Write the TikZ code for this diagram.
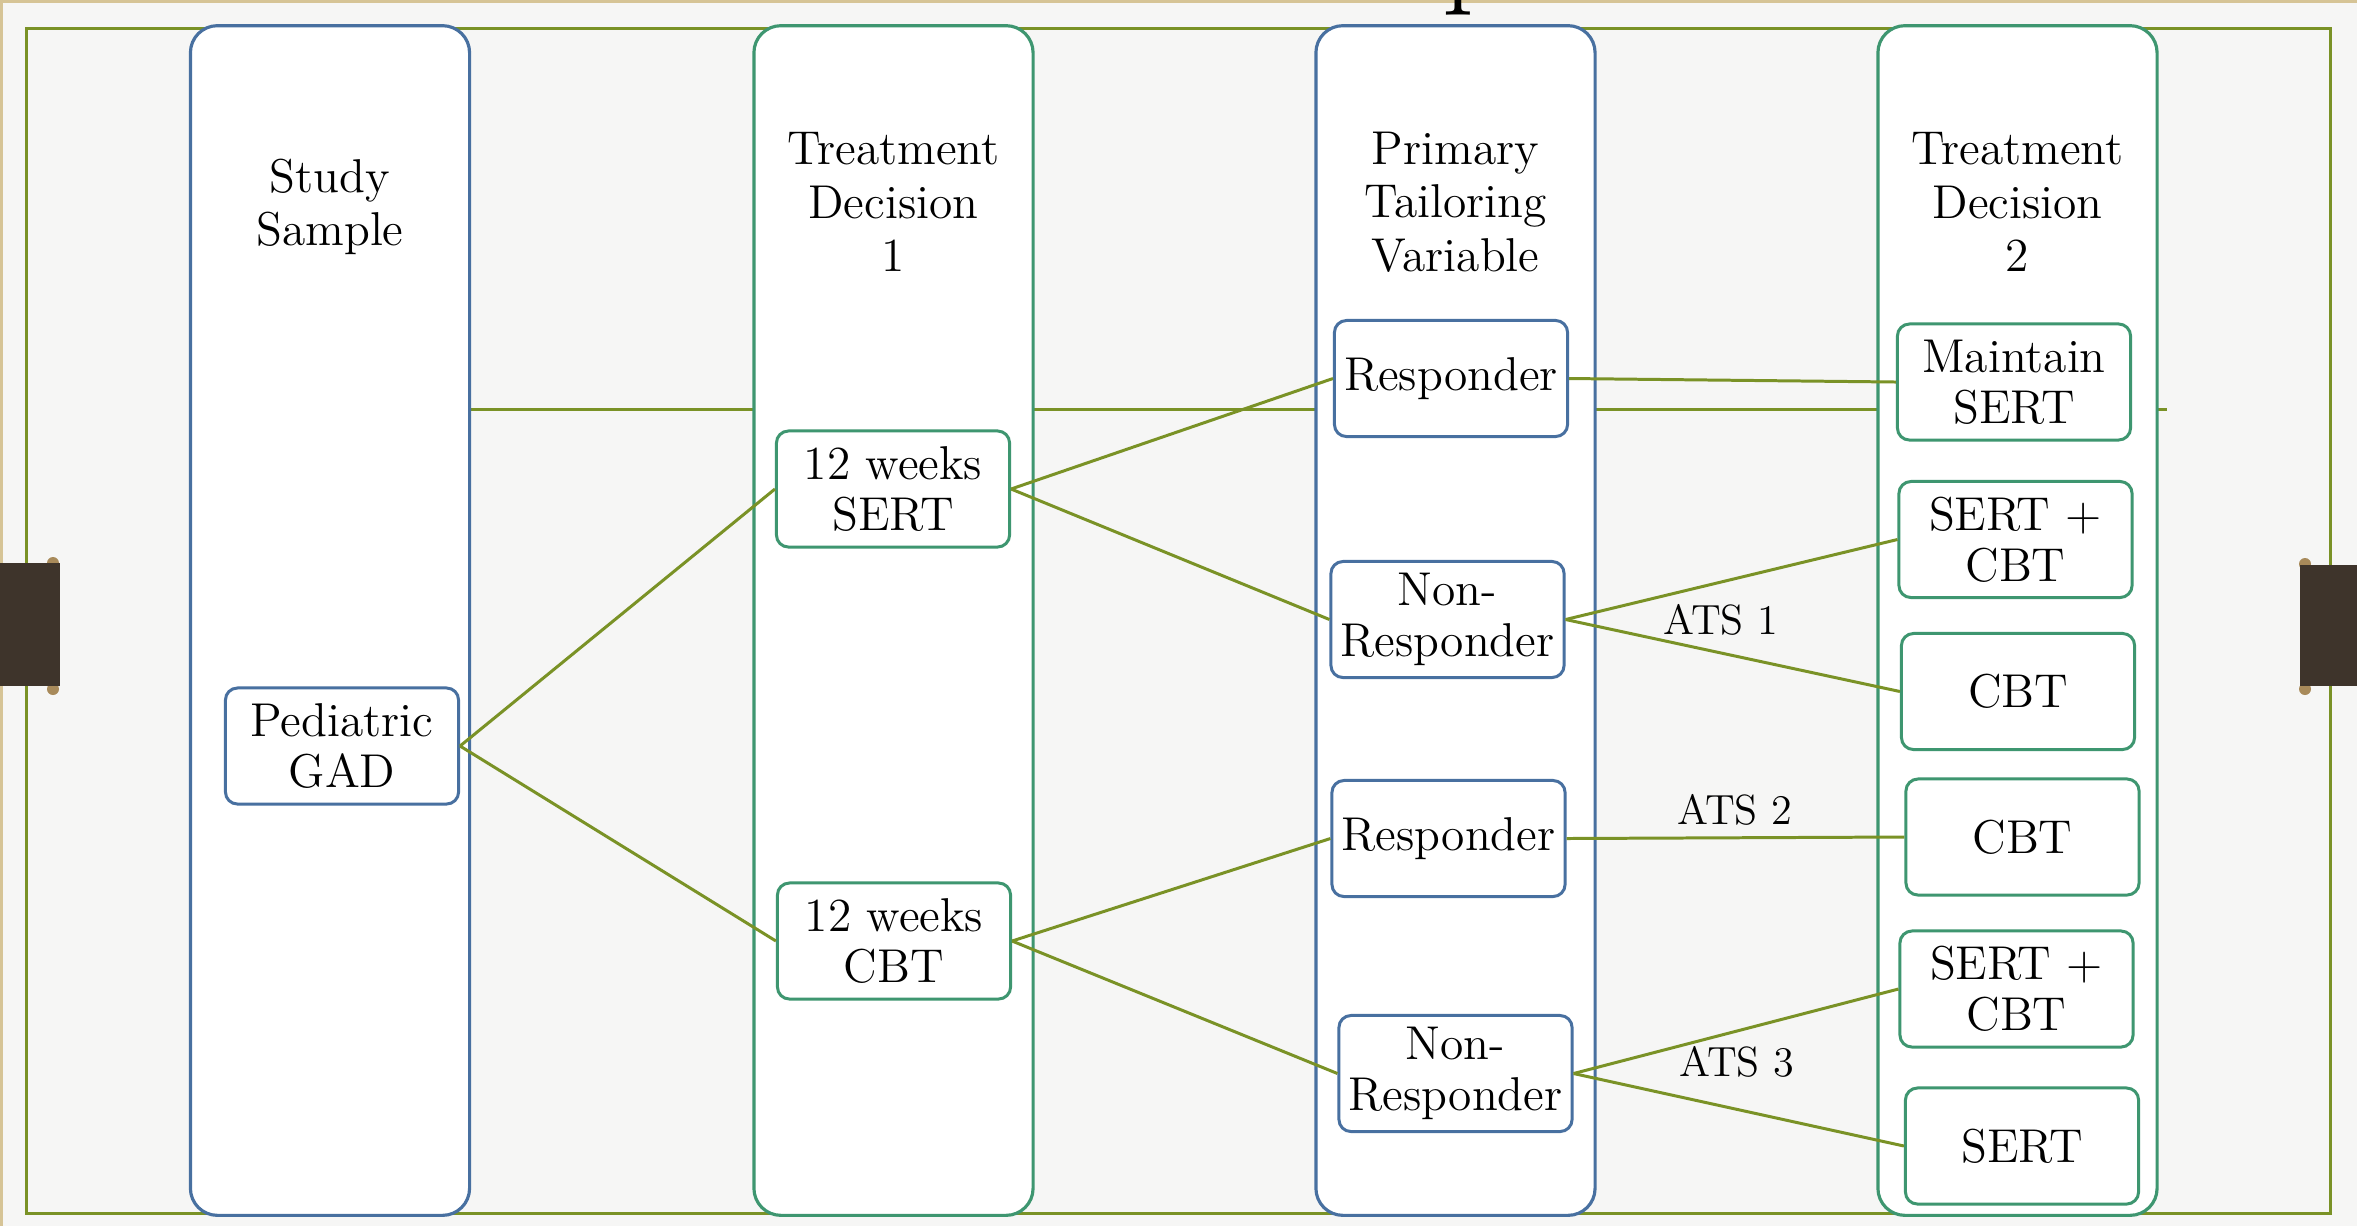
\documentclass[tikz,border=0pt]{standalone}

\definecolor{slidebg}{RGB}{246,246,245}
\definecolor{tanline}{RGB}{214,196,150}
\definecolor{frameolive}{RGB}{122,146,38}
\definecolor{colblue}{RGB}{72,112,160}
\definecolor{colgreen}{RGB}{62,150,112}
\definecolor{tabbrown}{RGB}{62,52,43}
\definecolor{tabdot}{RGB}{168,138,90}

\begin{document}
\begin{tikzpicture}[x=0.01cm, y=-0.01cm,
	col/.style={draw=#1, line width=0.9pt, fill=white, rounded corners=0.27cm, minimum width=2.79cm, minimum height=11.89cm, inner sep=0pt},
	box/.style={draw=#1, line width=0.85pt, fill=white, rounded corners=0.12cm, minimum width=2.33cm, minimum height=1.16cm, inner sep=0pt, align=center, font=\fontsize{13.5}{14.5}\selectfont},
	hdr/.style={align=center, font=\fontsize{13.5}{15.2}\selectfont},
	ats/.style={font=\fontsize{12}{14}\selectfont},
	link/.style={draw=frameolive, line width=0.85pt}]
	\fill[slidebg] (0,0) rectangle (2357,1226);
	\useasboundingbox (0,0) rectangle (2357,1226);
	\draw[tanline, line width=0.06cm] (2357,0) -- (0,0) -- (0,1226);
	\node[anchor=base west, inner sep=0pt, font=\fontsize{36}{40}\selectfont] (ttl) at (1442,-10) {p};

	\draw[frameolive, line width=0.03cm] (26.7,28.7) rectangle (2330.5,1213);
	\draw[frameolive, line width=0.03cm] (330,409) -- (2167,409);

	% columns
	\node[col=colblue] (studycol) at (330,620.5) {};
	\node[col=colgreen] (dec1col) at (893.5,620.5) {};
	\node[col=colblue] (tailcol) at (1455.5,620.5) {};
	\node[col=colgreen] (dec2col) at (2017.5,620.5) {};

	\node[hdr] (studyhd) at (330,207) {Study\\Sample};
	\node[hdr] (dec1hd) at (893.5,202) {Treatment\\Decision\\1};
	\node[hdr] (tailhd) at (1455.5,202) {Primary\\Tailoring\\Variable};
	\node[hdr] (dec2hd) at (2017.5,202) {Treatment\\Decision\\2};

	\node[box=colblue] (gad) at (342,746) {Pediatric\\GAD};
	\node[box=colgreen] (sert1) at (893,489) {12 weeks\\SERT};
	\node[box=colgreen] (cbt1) at (894,941) {12 weeks\\CBT};
	\node[box=colblue] (resp1) at (1451,378.5) {Responder};
	\node[box=colblue] (nonresp1) at (1447.5,619.5) {Non-\\Responder};
	\node[box=colblue] (resp2) at (1448.5,838.5) {Responder};
	\node[box=colblue] (nonresp2) at (1455.5,1073.5) {Non-\\Responder};
	\node[box=colgreen] (maint) at (2014,382) {Maintain\\SERT};
	\node[box=colgreen] (combo1) at (2015.5,539.5) {SERT +\\CBT};
	\node[box=colgreen] (cbt2) at (2018,691.5) {CBT};
	\node[box=colgreen] (cbt3) at (2022.5,837) {CBT};
	\node[box=colgreen] (combo2) at (2016.5,989) {SERT +\\CBT};
	\node[box=colgreen] (sert2) at (2022,1146) {SERT};

	\draw[link] (gad.east) -- (sert1.west);
	\draw[link] (gad.east) -- (cbt1.west);
	\draw[link] (sert1.east) -- (resp1.west);
	\draw[link] (sert1.east) -- (nonresp1.west);
	\draw[link] (cbt1.east) -- (resp2.west);
	\draw[link] (cbt1.east) -- (nonresp2.west);
	\draw[link] (resp1.east) -- (maint.west);
	\draw[link] (nonresp1.east) -- (combo1.west);
	\draw[link] (nonresp1.east) -- (cbt2.west);
	\draw[link] (resp2.east) -- (cbt3.west);
	\draw[link] (nonresp2.east) -- (combo2.west);
	\draw[link] (nonresp2.east) -- (sert2.west);

	\node[ats] (ats1) at (1721,620) {ATS 1};
	\node[ats] (ats2) at (1735,810) {ATS 2};
	\node[ats] (ats3) at (1737,1062) {ATS 3};

	% side tabs
	\fill[tabdot] (53,563) circle (0.06cm) (53,689) circle (0.06cm);
	\fill[tabbrown] (0,563) rectangle (60,686);
	\fill[tabdot] (2305,564) circle (0.06cm) (2305,689) circle (0.06cm);
	\fill[tabbrown] (2300,565) rectangle (2357,686);
\end{tikzpicture}
\end{document}
